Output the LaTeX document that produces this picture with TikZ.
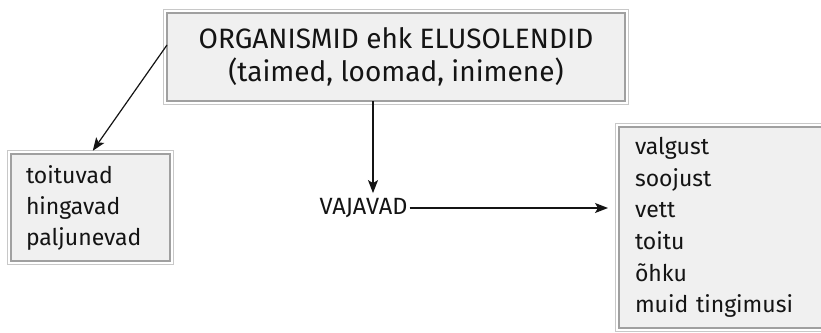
\documentclass[tikz,border=0pt]{standalone}
\usepackage{fontspec}
\setmainfont{Fira Sans}
\usetikzlibrary{arrows.meta,calc}
\definecolor{boxfill}{HTML}{F0F0F0}
\definecolor{innerline}{HTML}{A0A0A0}
\definecolor{outerline}{HTML}{C8C8C8}
\definecolor{ink}{HTML}{141414}
\tikzset{
  box/.style={draw=innerline, line width=2pt, fill=boxfill, outer sep=0pt, text=ink},
  outerframe/.style={draw=outerline, line width=1.2pt},
  arr/.style={draw=ink, line width=1.2pt, -{Stealth[length=13pt,width=10pt,inset=3pt]}},
  lbl/.style={text=ink, inner sep=2pt},
}
\begin{document}
\begin{tikzpicture}[x=1pt,y=-1pt]
\useasboundingbox (0,0) rectangle (821,332);
\clip (0,0) rectangle (821,332);
\fill[white] (0,0) rectangle (821,332);
% top box
\node[box, minimum width=458pt, minimum height=88pt, align=center,
      font=\fontsize{28}{33}\selectfont] (top) at (396,57)
  {ORGANISMID ehk ELUSOLENDID\\(taimed, loomad, inimene)};
\draw[outerframe] ($(top.north west)+(-3.5,-3.5)$) rectangle ($(top.south east)+(3.5,3.5)$);
% left box
\node[box, minimum width=159pt, minimum height=107pt, text width=129pt, inner xsep=15pt, align=left,
      font=\fontsize{23}{31}\selectfont] (left) at (90.5,207.5)
  {toituvad\\hingavad\\paljunevad};
\draw[outerframe] ($(left.north west)+(-3.5,-3.5)$) rectangle ($(left.south east)+(3.5,3.5)$);
% right box
\node[box, minimum width=207pt, minimum height=201pt, text width=175pt, inner xsep=16pt, align=left,
      font=\fontsize{23}{31.6}\selectfont] (right) at (722.5,227.5)
  {valgust\\soojust\\vett\\toitu\\õhku\\muid tingimusi};
\draw[outerframe] ($(right.north west)+(-3.5,-3.5)$) rectangle ($(right.south east)+(3.5,3.5)$);
% VAJAVAD
\node[lbl, font=\fontsize{23.5}{28}\selectfont] (vaj) at (363.5,208) {VAJAVAD};
% connectors
\draw[arr, shorten >=4pt] (top.177.5) -- (left.north);
\draw[arr] ([xshift=-23pt]top.south) -- ([xshift=9.5pt,yshift=3pt]vaj.north);
\draw[arr, shorten >=11pt] (vaj.east) -- (vaj.east -| right.west);
\end{tikzpicture}
\end{document}
